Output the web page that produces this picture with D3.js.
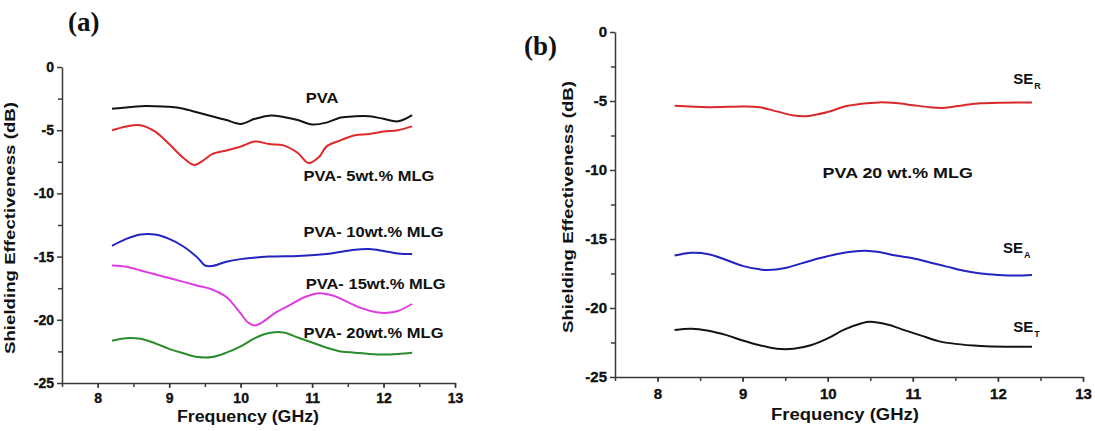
<!DOCTYPE html>
<html>
  <head>
    <meta charset="utf-8">
    <title>Shielding effectiveness</title>
    <script src="https://cdn.jsdelivr.net/npm/d3@7"></script>
    <style>
      body { margin: 0; background: #fff; }
      svg { display: block; font-family: "Liberation Sans", Arial, sans-serif; font-weight: bold; }
      .axis path, .axis line { stroke: #3a3a3a; stroke-width: 1.5; }
      .curve { fill: none; stroke-width: 2; }
    </style>
  </head>

  <body>
    <svg id="chart" width="1095" height="431"></svg>

    <script>
      // data (frequency in GHz, SE in dB)
      var pva = [[8.2,-3.3],[8.4,-3.2],[8.6,-3.1],[8.8,-3.1],[9.0,-3.15],[9.2,-3.3],[9.4,-3.6],[9.6,-3.9],[9.8,-4.2],[10.0,-4.5],[10.2,-4.1],[10.4,-3.85],[10.6,-3.95],[10.8,-4.2],[11.0,-4.55],[11.2,-4.4],[11.4,-4.0],[11.6,-3.9],[11.8,-3.9],[12.0,-4.1],[12.2,-4.3],[12.4,-3.8]];
      var mlg5 = [[8.2,-5.0],[8.4,-4.7],[8.6,-4.6],[8.8,-5.1],[9.0,-6.1],[9.2,-7.2],[9.35,-7.75],[9.5,-7.3],[9.6,-6.9],[9.8,-6.6],[10.0,-6.3],[10.2,-5.9],[10.4,-6.1],[10.6,-6.2],[10.8,-6.8],[10.95,-7.6],[11.1,-7.1],[11.2,-6.3],[11.4,-5.8],[11.6,-5.4],[11.8,-5.3],[12.0,-5.1],[12.2,-5.0],[12.4,-4.7]];
      var mlg10 = [[8.2,-14.15],[8.4,-13.6],[8.6,-13.25],[8.8,-13.25],[9.0,-13.6],[9.2,-14.2],[9.4,-15.1],[9.5,-15.7],[9.6,-15.75],[9.8,-15.4],[10.0,-15.2],[10.4,-15.0],[10.8,-14.95],[11.2,-14.8],[11.6,-14.45],[11.8,-14.4],[12.0,-14.55],[12.2,-14.75],[12.4,-14.8]];
      var mlg15 = [[8.2,-15.7],[8.4,-15.8],[8.6,-16.1],[8.8,-16.4],[9.0,-16.7],[9.2,-17.0],[9.4,-17.3],[9.6,-17.6],[9.8,-18.2],[10.0,-19.5],[10.1,-20.2],[10.2,-20.45],[10.3,-20.2],[10.5,-19.4],[10.7,-18.8],[10.9,-18.2],[11.1,-17.9],[11.3,-18.1],[11.5,-18.6],[11.7,-19.1],[11.9,-19.4],[12.05,-19.45],[12.2,-19.3],[12.4,-18.75]];
      var mlg20 = [[8.2,-21.65],[8.4,-21.45],[8.6,-21.5],[8.8,-21.85],[9.0,-22.3],[9.2,-22.65],[9.4,-22.95],[9.6,-22.95],[9.8,-22.6],[10.0,-22.1],[10.2,-21.45],[10.4,-21.05],[10.6,-21.0],[10.8,-21.4],[11.0,-21.8],[11.2,-22.2],[11.4,-22.5],[11.6,-22.6],[11.8,-22.7],[12.0,-22.75],[12.2,-22.7],[12.4,-22.6]];

      var seR = [[8.2,-5.35],[8.6,-5.45],[9.0,-5.4],[9.2,-5.45],[9.4,-5.75],[9.6,-6.05],[9.75,-6.1],[10.0,-5.8],[10.2,-5.4],[10.4,-5.2],[10.6,-5.1],[10.8,-5.15],[11.0,-5.3],[11.2,-5.45],[11.35,-5.5],[11.6,-5.3],[11.8,-5.17],[12.0,-5.12],[12.4,-5.1]];
      var seA = [[8.2,-16.2],[8.4,-16.0],[8.6,-16.1],[8.8,-16.5],[9.0,-16.95],[9.2,-17.2],[9.3,-17.25],[9.5,-17.1],[9.7,-16.75],[9.9,-16.4],[10.1,-16.1],[10.3,-15.9],[10.45,-15.85],[10.6,-15.95],[10.8,-16.2],[11.0,-16.4],[11.2,-16.7],[11.4,-17.0],[11.6,-17.3],[11.8,-17.5],[12.0,-17.6],[12.2,-17.65],[12.4,-17.6]];
      var seT = [[8.2,-21.6],[8.4,-21.5],[8.6,-21.65],[8.8,-21.95],[9.0,-22.35],[9.2,-22.7],[9.4,-22.95],[9.6,-22.95],[9.8,-22.7],[10.0,-22.2],[10.2,-21.55],[10.4,-21.1],[10.5,-21.0],[10.7,-21.2],[10.9,-21.6],[11.1,-22.0],[11.3,-22.4],[11.5,-22.6],[11.8,-22.75],[12.1,-22.8],[12.4,-22.8]];

      var xTicks = [8, 9, 10, 11, 12, 13];
      var yTicks = [0, -5, -10, -15, -20, -25];

      // labels sit at [freq, dB] anchors
      var labelsA = [
        {text: "PVA", at: [10.91, -2.85]},
        {text: "PVA- 5wt.% MLG", at: [10.88, -9.0]},
        {text: "PVA- 10wt.% MLG", at: [10.88, -13.44]},
        {text: "PVA- 15wt.% MLG", at: [10.91, -17.55]},
        {text: "PVA- 20wt.% MLG", at: [10.88, -21.42]}
      ];
      var labelsB = [
        {text: "PVA 20 wt.% MLG", at: [9.94, -10.58]}
      ];
      var seLabels = [
        {sub: "R", at: [12.18, -3.77]},
        {sub: "A", at: [12.06, -16.0]},
        {sub: "T", at: [12.18, -21.74]}
      ];

      svg = d3.select("#chart");

      // plain hyphen minus, as in the original
      fmt = function(d) { return String(d); };

      panels = [
        {
          tag: "(a)", tagPos: [68, 31],
          xRange: [62, 455], yRange: [383, 67],
          yTitle: [15, 228], xTitle: [248, 422],
          tickFont: 14, xPad: 5,
          series: [
            {data: pva, colour: "#141414"},
            {data: mlg5, colour: "#e02a2a"},
            {data: mlg10, colour: "#2323c0"},
            {data: mlg15, colour: "#e03be0"},
            {data: mlg20, colour: "#2b8c2b"}
          ],
          labels: labelsA, labelSize: 14, labelStretch: 1.18
        },
        {
          tag: "(b)", tagPos: [524, 55],
          xRange: [615, 1083], yRange: [377, 32],
          yTitle: [573, 207], xTitle: [845, 420],
          tickFont: 15, xPad: 6,
          series: [
            {data: seR, colour: "#d8282c"},
            {data: seA, colour: "#2323c0"},
            {data: seT, colour: "#141414"}
          ],
          labels: labelsB, labelSize: 14, labelStretch: 1.28
        }
      ];

      panels.forEach(function(p, i) {
        var g = svg.append("g");

        var x = d3.scaleLinear().domain([7.5, 13]).range(p.xRange);
        var y = d3.scaleLinear().domain([-25, 0]).range(p.yRange);

        // minor ticks
        g.append("g")
          .attr("class", "axis")
          .attr("transform", "translate(0," + p.yRange[0] + ")")
          .call(d3.axisBottom(x).tickValues(d3.range(7.5, 13.01, 0.5)).tickSize(4).tickFormat(""))
          .select(".domain").remove();
        g.append("g")
          .attr("class", "axis")
          .attr("transform", "translate(" + p.xRange[0] + ",0)")
          .call(d3.axisLeft(y).tickValues(d3.range(-22.5, 0, 5)).tickSize(4).tickFormat(""))
          .select(".domain").remove();

        // major axes
        var xAxis = g.append("g")
          .attr("class", "axis")
          .attr("transform", "translate(0," + p.yRange[0] + ")")
          .call(d3.axisBottom(x).tickValues(xTicks).tickFormat(fmt).tickSize(5).tickSizeOuter(0).tickPadding(p.xPad));
        var yAxis = g.append("g")
          .attr("class", "axis")
          .attr("transform", "translate(" + p.xRange[0] + ",0)")
          .call(d3.axisLeft(y).tickValues(yTicks).tickFormat(fmt).tickSize(5).tickSizeOuter(0).tickPadding(3));
        [xAxis, yAxis].forEach(function(a) {
          a.attr("font-family", "'Liberation Sans', Arial, sans-serif")
            .attr("font-weight", "bold")
            .attr("font-size", p.tickFont);
          a.selectAll("text")
            .attr("fill", "#111")
            .attr("stroke", "#111")
            .attr("stroke-width", 0.35);
        });

        var line = d3.line()
          .x(function(d) { return x(d[0]); })
          .y(function(d) { return y(d[1]); })
          .curve(d3.curveCatmullRom.alpha(0.5));

        g.selectAll(".curve")
          .data(p.series)
          .enter().append("path")
            .attr("class", "curve")
            .attr("stroke", function(d) { return d.colour; })
            .attr("d", function(d) { return line(d.data); });

        g.selectAll(".label")
          .data(p.labels)
          .enter().append("text")
            .attr("class", "label")
            .attr("transform", function(d) {
              return "translate(" + x(d.at[0]) + "," + y(d.at[1]) + ") scale(" + p.labelStretch + ",1)";
            })
            .style("font-size", p.labelSize + "px")
            .attr("fill", "#111")
            .text(function(d) { return d.text; });

        // titles
        g.append("text")
          .attr("transform", "translate(" + p.yTitle[0] + "," + p.yTitle[1] + ") rotate(-90)")
          .attr("text-anchor", "middle")
          .attr("textLength", 252)
          .attr("lengthAdjust", "spacingAndGlyphs")
          .style("font-size", "15px")
          .attr("fill", "#111")
          .text("Shielding Effectiveness (dB)");

        g.append("text")
          .attr("x", p.xTitle[0])
          .attr("y", p.xTitle[1])
          .attr("text-anchor", "middle")
          .attr("textLength", i == 0 ? 142 : 148)
          .attr("lengthAdjust", "spacingAndGlyphs")
          .style("font-size", "16px")
          .attr("fill", "#111")
          .text("Frequency (GHz)");

        g.append("text")
          .attr("x", p.tagPos[0])
          .attr("y", p.tagPos[1])
          .style("font-family", "'Liberation Serif', 'Times New Roman', serif")
          .style("font-size", "27px")
          .attr("fill", "#111")
          .text(p.tag);

        // SE labels with subscripts
        if (i == 1) {
          var se = g.selectAll(".se")
            .data(seLabels)
            .enter().append("text")
              .attr("class", "se")
              .attr("x", function(d) { return x(d.at[0]); })
              .attr("y", function(d) { return y(d.at[1]); })
              .style("font-size", "15px")
              .attr("fill", "#111");
          se.append("tspan").text("SE");
          se.append("tspan")
            .attr("dy", 5)
            .attr("dx", 1)
            .style("font-size", "9px")
            .text(function(d) { return d.sub; });
        }
      });
    </script>
  </body>
</html>
